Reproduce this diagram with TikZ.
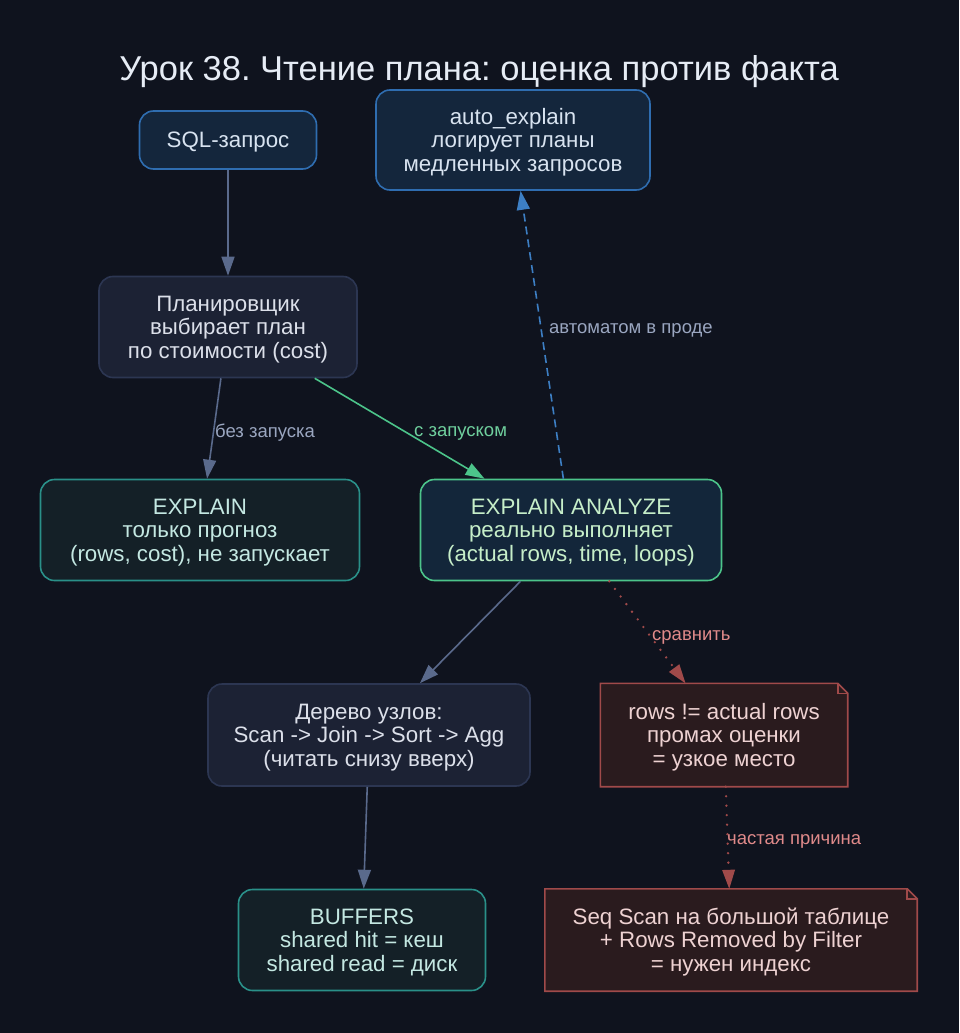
\documentclass[tikz,border=0pt]{standalone}
\usepackage{fontspec}
\setmainfont{Liberation Sans}
\frenchspacing
\usetikzlibrary{arrows.meta,backgrounds}
\definecolor{bgc}{HTML}{0F131E}
\definecolor{titlec}{HTML}{E6ECF5}
\definecolor{bluefill}{HTML}{14263C}
\definecolor{bluedraw}{HTML}{2F6DB0}
\definecolor{bluetext}{HTML}{D8E3F0}
\definecolor{greyfill}{HTML}{1C2234}
\definecolor{greydraw}{HTML}{2C3652}
\definecolor{greytext}{HTML}{DCE0EA}
\definecolor{tealfill}{HTML}{142027}
\definecolor{tealdraw}{HTML}{2A9089}
\definecolor{tealtext}{HTML}{C4E8E2}
\definecolor{greenfill}{HTML}{13263A}
\definecolor{greendraw}{HTML}{4CC48A}
\definecolor{greentext}{HTML}{C6EEC9}
\definecolor{notefill}{HTML}{2A1B1E}
\definecolor{notedraw}{HTML}{A04A4A}
\definecolor{notetext}{HTML}{EED2D2}
\definecolor{edgegrey}{HTML}{5A6A8C}
\definecolor{edgeblue}{HTML}{3D7FC4}
\definecolor{lblgrey}{HTML}{9AA6C0}
\definecolor{lblgreen}{HTML}{6FD09E}
\definecolor{lblred}{HTML}{E08A8A}
\newcommand{\ml}[1]{\raisebox{-3pt}[\height][\depth]{\begin{tabular}{@{}c@{}}#1\end{tabular}}}
\tikzset{
  box/.style={rounded corners=14pt, line width=1.6pt, inner sep=0pt,
    font=\fontsize{22.3}{23.5}\selectfont},
  bluebox/.style={box, fill=bluefill, draw=bluedraw, text=bluetext},
  greybox/.style={box, fill=greyfill, draw=greydraw, text=greytext},
  tealbox/.style={box, fill=tealfill, draw=tealdraw, text=tealtext},
  greenbox/.style={box, fill=greenfill, draw=greendraw, text=greentext},
  notebox/.style={inner sep=0pt, text=notetext, font=\fontsize{22.3}{23.5}\selectfont},
  notepath/.style={fill=notefill, draw=notedraw, line width=1.6pt, line join=miter},
  conn/.style={line width=1.6pt, -{Triangle[length=19pt,width=13pt]}},
  dotconn/.style={line width=2.6pt, notedraw, line cap=round, dash pattern=on 0pt off 9.5pt,
    -{Triangle[length=19pt,width=13pt,line width=0pt]}},
  lbl/.style={anchor=west, inner sep=0pt, font=\fontsize{18.5}{20}\selectfont},
}
\newcommand{\drawnote}[1]{%
  \begin{scope}[on background layer]
    \path[notepath] (#1.south west) -- (#1.south east) -- ([yshift=-10pt]#1.north east)
      -- ([xshift=-10pt]#1.north east) -- (#1.north west) -- cycle;
    \path[draw=notedraw, line width=1.6pt] ([xshift=-10pt]#1.north east) -- ([xshift=-10pt,yshift=-10pt]#1.north east) -- ([yshift=-10pt]#1.north east);
  \end{scope}}
\begin{document}
\begin{tikzpicture}[x=1pt,y=-1pt]
\begin{scope}[on background layer]
\fill[bgc] (0,0) rectangle (959,1033);
\end{scope}
\useasboundingbox (0,0) rectangle (959,1033);

\node[text=titlec, font=\fontsize{34.5}{37}\selectfont] (title) at (479,72) {Урок 38. Чтение плана: оценка против факта};

\node[bluebox, minimum width=177pt, minimum height=58pt] (sql) at (228,140) {\ml{SQL-запрос}};
\node[bluebox, minimum width=274pt, minimum height=100pt] (auto) at (513,140) {\ml{auto\_explain\\логирует планы\\медленных запросов}};
\node[greybox, minimum width=258pt, minimum height=101pt] (plan) at (228,327) {\ml{Планировщик\\выбирает план\\по стоимости (cost)}};
\node[tealbox, minimum width=319pt, minimum height=101pt] (expl) at (200,530) {\ml{EXPLAIN\\только прогноз\\(rows, cost), не запускает}};
\node[greenbox, minimum width=301pt, minimum height=101pt] (ea) at (571,530) {\ml{EXPLAIN ANALYZE\\реально выполняет\\(actual rows, time, loops)}};
\node[greybox, minimum width=322pt, minimum height=102pt] (tree) at (369,735) {\ml{Дерево узлов:\\Scan -> Join -> Sort -> Agg\\(читать снизу вверх)}};
\node[tealbox, minimum width=247pt, minimum height=101pt] (buf) at (362,940) {\ml{BUFFERS\\shared hit = кеш\\shared read = диск}};
\node[notebox, minimum width=247pt, minimum height=103pt] (miss) at (724,735) {\ml{rows != actual rows\\промах оценки\\= узкое место}};
\node[notebox, minimum width=372pt, minimum height=102pt] (seq) at (731,940) {\ml{Seq Scan на большой таблице\\+ Rows Removed by Filter\\= нужен индекс}};
\drawnote{miss}
\drawnote{seq}

\draw[conn, edgegrey] (sql) -- (plan);
\draw[conn, edgegrey] (plan) -- (expl);
\draw[conn, greendraw] (plan) -- (ea);
\draw[conn, edgeblue, dash pattern=on 8pt off 5pt] (ea) -- (auto);
\draw[conn, edgegrey] (ea) -- (tree);
\draw[dotconn] (ea) -- (miss);
\draw[dotconn] (miss) -- (seq);
\draw[conn, edgegrey] (tree) -- (buf);

\node[lbl, text=lblgrey] (l1) at (215,433) {без запуска};
\node[lbl, text=lblgreen] (l2) at (414,433) {с запуском};
\node[lbl, text=lblgrey] (l3) at (549,330) {автоматом в проде};
\node[lbl, text=lblred] (l4) at (652,637) {сравнить};
\node[lbl, text=lblred] (l5) at (727,841) {частая причина};
\end{tikzpicture}
\end{document}
